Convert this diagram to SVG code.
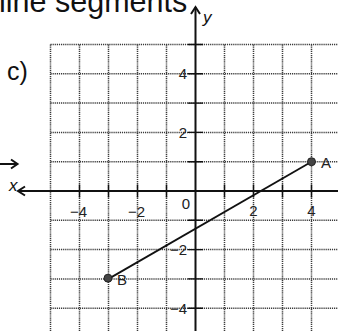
<svg xmlns="http://www.w3.org/2000/svg" width="338" height="331" viewBox="0 0 338 331">
<style>
.grid{stroke:#3a3a3a;stroke-width:1.5;stroke-dasharray:1.2 0.9;fill:none}
.axis{stroke:#111;stroke-width:2;fill:none}
.tick{stroke:#111;stroke-width:1.4}
.lbl{font-family:"Liberation Sans",Arial,sans-serif;font-size:15px;fill:#222}
.ital{font-family:"Liberation Sans",Arial,sans-serif;font-style:italic;font-size:17px;fill:#111}
.pt{fill:#444;stroke:#222;stroke-width:1}
</style>
<rect width="338" height="331" fill="#fff"/>
<text x="-1" y="12" font-family="Liberation Sans, Arial, sans-serif" font-size="30.5" fill="#111">line segments</text>
<text x="7" y="80" font-family="Liberation Sans, Arial, sans-serif" font-size="25" fill="#111">c)</text>
<g id="stray-arrow" class="axis" stroke-width="1.8">
<path d="M0 164H17M11 159.5L17.5 164L11 168.5"/>
</g>
<g id="grid" class="grid">
<path d="M50.5 44.5V331M79.5 44.5V331M108.5 44.5V331M137.5 44.5V331M166.5 44.5V331M224.5 44.5V331M253.5 44.5V331M282.5 44.5V331M311.5 44.5V331"/>
<path d="M50.5 44.5H338M50.5 73.8H338M50.5 103.1H338M50.5 132.4H338M50.5 161.7H338M50.5 220.3H338M50.5 249.6H338M50.5 278.9H338M50.5 308.2H338"/>
</g>
<g id="axes">
<path class="axis" d="M18 191H338M195.5 7V331"/>
<path class="axis" stroke-width="1.8" d="M25 186.5L18 191L25 195.5M191 14L195.5 7L200 14"/>
<path class="tick" d="M79.5 184.5V197.5M108.5 184.5V197.5M137.5 184.5V197.5M166.5 184.5V197.5M224.5 184.5V197.5M253.5 184.5V197.5M282.5 184.5V197.5M311.5 184.5V197.5M188 44.5H203M188 73.8H203M188 103.1H203M188 132.4H203M188 161.7H203M188 220.3H203M188 249.6H203M188 278.9H203M188 308.2H203"/>
<text class="ital" x="203" y="23">y</text>
<text class="ital" x="9" y="191">x</text>
</g>
<g id="tick-labels" class="lbl">
<text x="187" y="79" text-anchor="end">4</text>
<text x="187" y="138" text-anchor="end">2</text>
<text x="187" y="255" text-anchor="end">−2</text>
<text x="187" y="314" text-anchor="end">−4</text>
<text x="78.5" y="216.5" text-anchor="middle">−4</text>
<text x="136.5" y="216.5" text-anchor="middle">−2</text>
<text x="186" y="209" text-anchor="middle">0</text>
<text x="253.5" y="216" text-anchor="middle">2</text>
<text x="311.5" y="216" text-anchor="middle">4</text>
</g>
<g id="connectors">
<line x1="311.5" y1="161.7" x2="108.5" y2="278.9" stroke="#111" stroke-width="1.8"/>
</g>
<g id="node-A">
<circle class="pt" cx="311.5" cy="161.7" r="4"/>
<text class="lbl" x="321" y="168">A</text>
</g>
<g id="node-B">
<circle class="pt" cx="108" cy="278.2" r="4"/>
<text class="lbl" x="117" y="285">B</text>
</g>
</svg>
